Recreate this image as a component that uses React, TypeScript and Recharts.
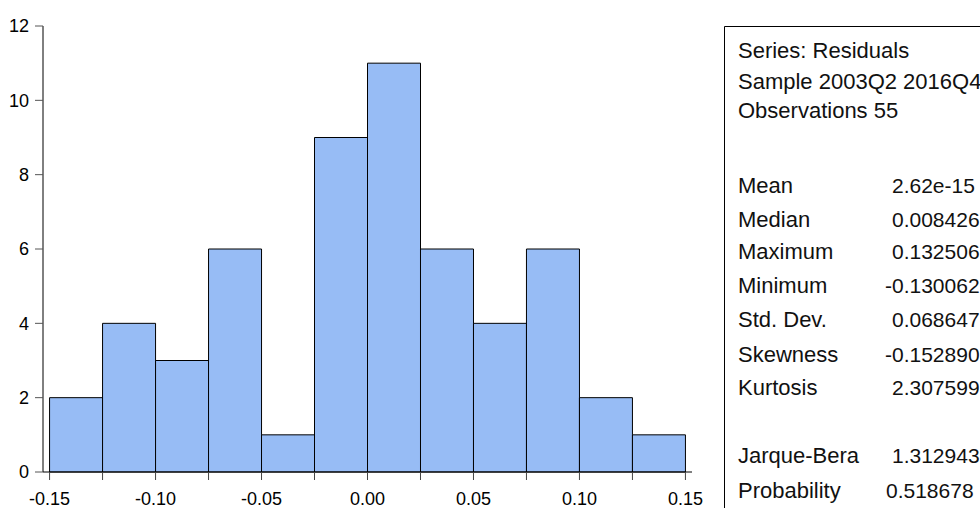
import React from 'react';
import { ComposedChart, Bar, XAxis, YAxis } from 'recharts';

// Histogram bins (bin centers, width 0.025) and counts
const binCenters = [-0.1375, -0.1125, -0.0875, -0.0625, -0.0375, -0.0125, 0.0125, 0.0375, 0.0625, 0.0875, 0.1125, 0.1375];
const counts = [2, 4, 3, 6, 1, 9, 11, 6, 4, 6, 2, 1];

// Axis ticks
const xTicks = [-0.15, -0.125, -0.1, -0.075, -0.05, -0.025, 0, 0.025, 0.05, 0.075, 0.1, 0.125, 0.15];
const xTickLabels = ['-0.15', '', '-0.10', '', '-0.05', '', '0.00', '', '0.05', '', '0.10', '', '0.15'];
const yTicks = [0, 2, 4, 6, 8, 10, 12];

// Statistics panel
const headerLines = ['Series: Residuals', 'Sample 2003Q2 2016Q4', 'Observations 55'];
const statNames = ['Mean', 'Median', 'Maximum', 'Minimum', 'Std. Dev.', 'Skewness', 'Kurtosis', 'Jarque-Bera', 'Probability'];
const statValues = ['2.62e-15', '0.008426', '0.132506', '-0.130062', '0.068647', '-0.152890', '2.307599', '1.312943', '0.518678'];

const data = binCenters.map((x, i) => ({ x, count: counts[i] }));

const FONT = '"Liberation Sans", Arial, Helvetica, sans-serif';

const XTick = (props: any) => {
  const { x, y, payload } = props;
  const idx = xTicks.findIndex((t) => Math.abs(t - payload.value) < 1e-9);
  const label = idx >= 0 ? xTickLabels[idx] : '';
  if (!label) return null;
  return (
    <text x={x} y={y} dy="0.71em" textAnchor="middle" fontSize={18} fill="#000" fontFamily={FONT}>
      {label}
    </text>
  );
};

const headerBaselines = [58, 89, 118];
const statBaselines = [193, 227, 259, 293, 327, 362, 395, 463, 498];

export default function App() {
  return (
    <div style={{ position: 'absolute', left: 0, top: 0, width: 980, height: 508, background: '#fff', fontFamily: FONT }}>
      <ComposedChart
        width={980}
        height={508}
        data={data}
        margin={{ top: 26, right: 288, left: 0, bottom: 0 }}
        barCategoryGap={0}
        barGap={0}
      >
        <XAxis
          dataKey="x"
          type="number"
          domain={[-0.1531, 0.1531]}
          ticks={xTicks}
          interval={0}
          height={36}
          tickSize={8}
          tickMargin={12}
          tick={<XTick />}
          axisLine={{ stroke: '#000', strokeWidth: 1 }}
          tickLine={{ stroke: '#444', strokeWidth: 1 }}
        />
        <XAxis
          xAxisId="top"
          orientation="top"
          type="number"
          domain={[-0.1531, 0.1531]}
          height={0}
          tick={false}
          tickLine={false}
          axisLine={{ stroke: '#000', strokeWidth: 1 }}
        />
        <YAxis
          type="number"
          domain={[0, 12]}
          ticks={yTicks}
          interval={0}
          width={43}
          tickSize={8}
          tickMargin={6}
          tick={{ fontSize: 18, fill: '#000', fontFamily: FONT }}
          axisLine={{ stroke: '#000', strokeWidth: 1 }}
          tickLine={{ stroke: '#555', strokeWidth: 1 }}
        />
        <YAxis
          yAxisId="right"
          orientation="right"
          type="number"
          domain={[0, 12]}
          width={0}
          tick={false}
          tickLine={false}
          axisLine={{ stroke: '#000', strokeWidth: 1 }}
        />
        <Bar dataKey="count" fill="#97BCF5" stroke="#000" strokeWidth={1} isAnimationActive={false} />
      </ComposedChart>
      <svg
        width={980}
        height={508}
        style={{ position: 'absolute', left: 0, top: 0, pointerEvents: 'none' }}
      >
        <line x1={724.5} y1={26.5} x2={980} y2={26.5} stroke="#000" strokeWidth={1} />
        <line x1={724.5} y1={26.5} x2={724.5} y2={508} stroke="#000" strokeWidth={1} />
        {headerLines.map((t, i) => (
          <text key={t} x={738} y={headerBaselines[i]} fontSize={22} fill="#111" fontFamily={FONT}>
            {t}
          </text>
        ))}
        {statNames.map((t, i) => (
          <text key={t} x={738} y={statBaselines[i]} fontSize={22} fill="#111" fontFamily={FONT}>
            {t}
          </text>
        ))}
        {statValues.map((v, i) => (
          <text
            key={statNames[i]}
            x={v.startsWith('-') ? 885 : i === 8 ? 886 : 892}
            y={statBaselines[i]}
            fontSize={21}
            fill="#111"
            fontFamily={FONT}
          >
            {v}
          </text>
        ))}
      </svg>
    </div>
  );
}
